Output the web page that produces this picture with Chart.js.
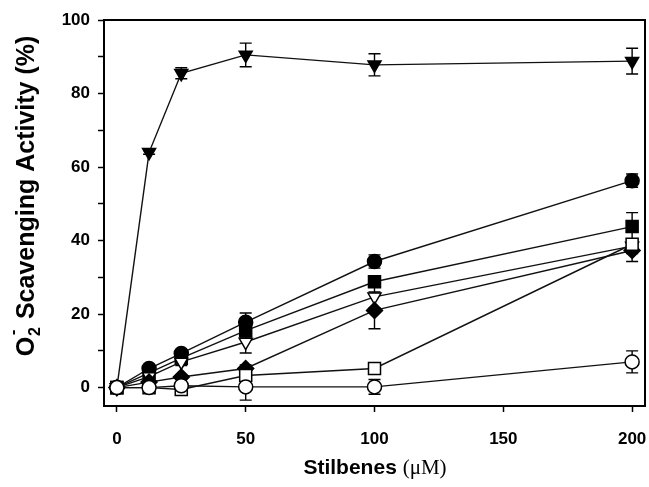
<!DOCTYPE html>
<html>
<head>
<meta charset="utf-8">
<script src="https://cdn.jsdelivr.net/npm/chart.js@4/dist/chart.umd.min.js"></script>
<style>
  html, body { margin:0; padding:0; background:#fff; }
</style>
</head>
<body>
<canvas id="graph" width="649" height="487"></canvas>
<script>
/* ---- données (x = concentration en µM, y = % de piégeage) ---- */
const concentrations = [0, 12.5, 25, 50, 100, 200];
const xTicks = [0, 50, 100, 150, 200];
const yTicks = [0, 10, 20, 30, 40, 50, 60, 70, 80, 90, 100];

const triPleinVal  = [0, 64, 85.5, 90.5, 87.8, 88.8];
const triPleinErr  = [0, 0.5, 1.5, 3.2, 3, 3.5];
const rondPleinVal = [0, 5.2, 9.3, 17.8, 34.3, 56.3];
const rondPleinErr = [0, 0.5, 1, 2.5, 1.8, 1.8];
const carrePleinVal = [0, 4, 8, 15.5, 28.8, 43.8];
const carrePleinErr = [0, 0.5, 1, 2, 1.5, 3.8];
const triVideVal   = [0, 3, 7, 12.4, 24.7, 38.5];
const triVideErr   = [0, 0.5, 1, 3, 3, 2];
const losangeVal   = [0, 1.5, 2.9, 5.2, 21, 37.3];
const losangeErr   = [0, 0.5, 0.5, 1, 5, 3];
const carreVideVal = [0, 0, -0.5, 3.3, 5.2, 39];
const carreVideErr = [0, 0.5, 0.5, 0.5, 0.5, 1.5];
const rondVideVal  = [0, 0, 0.5, 0.2, 0.2, 7];
const rondVideErr  = [0, 0.5, 0.5, 3.6, 2, 3];

const pts = vals => vals.map((y, i) => ({ x: concentrations[i], y }));

function serie(vals, errs, style, plein, rayon, rotation){
  return {
    data: pts(vals), erreurs: errs,
    borderColor:'#111', borderWidth:1.4,
    pointStyle: style, pointRadius: rayon, pointRotation: rotation || 0,
    pointBackgroundColor: plein ? '#000' : '#fff',
    pointBorderColor:'#000', pointBorderWidth:1.5,
    tension:0, fill:false,
  };
}

/* barres d'erreur, sous les marqueurs */
const barresErreur = {
  id:'barresErreur',
  beforeDatasetsDraw(chart){
    const { ctx, scales:{ x, y } } = chart;
    ctx.save();
    ctx.strokeStyle = '#000'; ctx.lineWidth = 1.4;
    chart.data.datasets.forEach(ds => {
      ds.data.forEach((p, i) => {
        const e = ds.erreurs[i]; if(!e) return;
        const px = x.getPixelForValue(p.x);
        const y1 = y.getPixelForValue(p.y + e), y2 = y.getPixelForValue(p.y - e);
        ctx.beginPath();
        ctx.moveTo(px, y1); ctx.lineTo(px, y2);
        ctx.moveTo(px - 6, y1); ctx.lineTo(px + 6, y1);
        ctx.moveTo(px - 6, y2); ctx.lineTo(px + 6, y2);
        ctx.stroke();
      });
    });
    ctx.restore();
  }
};

/* cadre + titres d'axes (polices mixtes, indices) */
const cadre = {
  id:'cadre',
  afterDraw(chart){
    const { ctx, chartArea:a } = chart;
    ctx.save();
    ctx.strokeStyle = '#000'; ctx.lineWidth = 2;
    ctx.strokeRect(a.left, a.top, a.right - a.left, a.bottom - a.top);

    /* titre X : "Stilbenes (µM)" */
    ctx.fillStyle = '#000'; ctx.textBaseline = 'middle';
    const fSans = 'bold 21px "Liberation Sans", Arial, sans-serif';
    const fSerif = '21px "Liberation Serif", "Times New Roman", serif';
    ctx.font = fSans; const w1 = ctx.measureText('Stilbenes ').width;
    ctx.font = fSerif; const w2 = ctx.measureText('(\u03BCM)').width;
    let x0 = 375 - (w1 + w2) / 2;
    ctx.textAlign = 'left';
    ctx.font = fSans; ctx.fillText('Stilbenes ', x0, 468);
    ctx.font = fSerif; ctx.fillText('(\u03BCM)', x0 + w1, 468);

    /* titre Y : "O2·- Scavenging Activity (%)" tourné */
    ctx.translate(27, 196); ctx.rotate(-Math.PI / 2);
    const fTitreY = 'bold 25px "Liberation Sans", Arial, sans-serif';
    const fPetit = 'bold 16px "Liberation Sans", Arial, sans-serif';
    ctx.font = fTitreY; const wO = ctx.measureText('O').width;
    ctx.font = fPetit; const wInd = ctx.measureText('2').width + 2;
    ctx.font = fTitreY; const wReste = ctx.measureText(' Scavenging Activity (%)').width;
    let s = -(wO + wInd + wReste) / 2;
    ctx.font = fTitreY; ctx.fillText('O', s, 0);
    ctx.font = fPetit;
    ctx.fillText('2', s + wO + 1, 9);
    ctx.fillText('-', s + wO + 2, -13);
    ctx.font = fTitreY; ctx.fillText(' Scavenging Activity (%)', s + wO + wInd, 0);
    ctx.restore();
  }
};

const policeTicks = { family:'"Liberation Sans", Arial, sans-serif', size:17, weight:'bold' };

new Chart(document.getElementById('graph'), {
  type:'line',
  data:{ datasets:[
    serie(rondVideVal, rondVideErr, 'circle', false, 7),
    serie(carreVideVal, carreVideErr, 'rect', false, 8.5),
    serie(losangeVal, losangeErr, 'rectRot', true, 8),
    serie(triVideVal, triVideErr, 'triangle', false, 7.5, 180),
    serie(carrePleinVal, carrePleinErr, 'rect', true, 8.5),
    serie(rondPleinVal, rondPleinErr, 'circle', true, 7),
    serie(triPleinVal, triPleinErr, 'triangle', true, 7.5, 180),
  ]},
  options:{
    responsive:false, animation:false,
    layout:{ autoPadding:false, padding:{ top:20, right:4, left:0, bottom:0 } },
    plugins:{ legend:{ display:false }, tooltip:{ enabled:false } },
    scales:{
      x:{
        type:'linear', min:-5, max:205,
        afterBuildTicks: s => { s.ticks = xTicks.map(v => ({ value:v })); },
        afterFit: s => { s.height = 81; s.paddingLeft = 0; s.paddingRight = 0; },
        grid:{ drawOnChartArea:false, tickLength:6, tickColor:'#000', tickWidth:1.5 },
        border:{ display:false },
        ticks:{ color:'#000', font:policeTicks, padding:17, maxRotation:0 },
      },
      y:{
        min:-5, max:100,
        afterBuildTicks: s => { s.ticks = yTicks.map(v => ({ value:v })); },
        afterFit: s => { s.width = 104; s.paddingTop = 0; s.paddingBottom = 0; },
        grid:{ drawOnChartArea:false, tickLength:6, tickColor:'#000', tickWidth:1.5 },
        border:{ display:false },
        ticks:{ color:'#000', font:policeTicks, padding:8, callback: v => (v % 20 === 0 ? v : '') },
      },
    },
  },
  plugins:[barresErreur, cadre],
});
</script>
</body>
</html>
